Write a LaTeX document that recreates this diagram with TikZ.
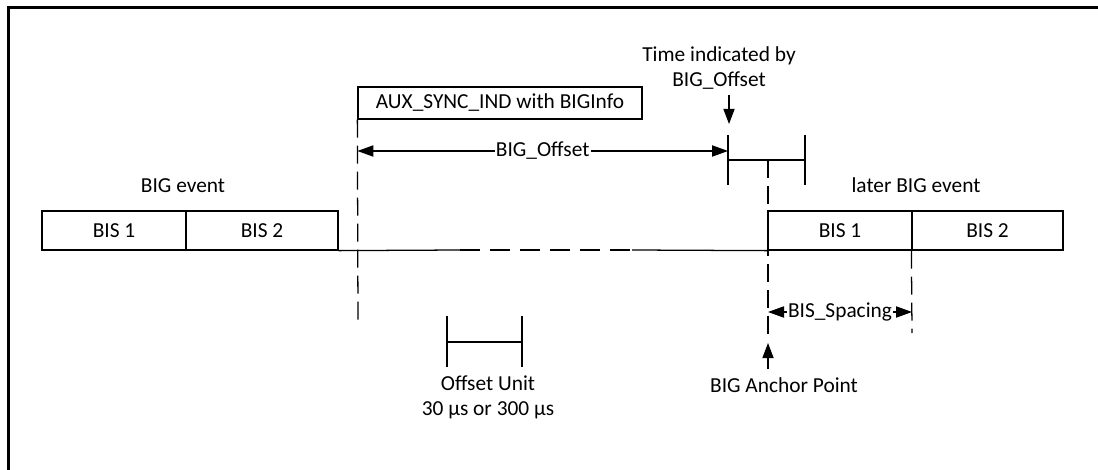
\documentclass[tikz,border=0pt]{standalone}
\usepackage{fontspec}
\setmainfont{Carlito}
\usetikzlibrary{
    arrows.meta,
    positioning,
    calc
}

\begin{document}
\begin{tikzpicture}[
    x=0.25mm,
    y=-0.25mm,
    every node/.style={
        font=\fontsize{15.2pt}{18pt}\selectfont
    },
    bisbox/.style={
        rectangle,
        draw=black,
        line width=0.9pt,
        minimum height=9.75mm,
        inner sep=0pt,
        align=center
    },
    infobox/.style={
        bisbox,
        minimum width=71mm,
        minimum height=8mm
    },
    caption/.style={
        align=center,
        inner sep=1pt
    },
    thinline/.style={
        line width=0.9pt,
        draw=black
    },
    guide/.style={
        thinline,
        dash pattern=on 4.5mm off 2mm
    },
    arrow/.style={
        -{Triangle[length=3.8mm,width=2.8mm]},
        thinline
    },
    dimarrow/.style={
        {Triangle[length=4mm,width=2.8mm]}-{Triangle[length=4mm,width=2.8mm]},
        thinline
    },
    frameline/.style={
        line width=1.6pt,
        draw=black
    }
]

\useasboundingbox (0,0) rectangle (1098,470);

% ===========================================================
% Frame
% ===========================================================

\coordinate (framecorner) at (8.5,7.5);
\coordinate (frametop) at (1098,7.5);
\coordinate (framebottom) at (8.5,470);
\draw[frameline] (framebottom) -- (framecorner) -- (frametop);

% ===========================================================
% BIG event (left)
% ===========================================================

\node[bisbox, minimum width=36mm] (bisa) at (114,230.5) {BIS 1};
\node[bisbox, minimum width=38mm] (bisb) at (262,230.5) {BIS 2};

\node[caption] (bigevent) at (183,186) {BIG event};

% ===========================================================
% later BIG event (right)
% ===========================================================

\node[bisbox, minimum width=36mm] (laterbisa) at (840,230.5) {BIS 1};
\node[bisbox, minimum width=37.75mm] (laterbisb) at (987.5,230.5) {BIS 2};

\node[caption] (laterevent) at (916,185) {later BIG event};

% Time line between the two events
\coordinate (dashstart) at (460,250);
\coordinate (dashend) at (632,250);

\draw[thinline] (bisb.south east) -- (dashstart);
\draw[guide, dash pattern=on 5mm off 2.5mm] (dashstart) -- (dashend);
\draw[thinline] (dashend) -- (laterbisa.south west);

% ===========================================================
% AUX_SYNC_IND and BIG_Offset
% ===========================================================

\node[infobox] (auxsync) at (500,103) {AUX\_SYNC\_IND with BIGInfo};

\coordinate (auxfoot) at (358,327);
\draw[guide] (auxsync.south west) -- (auxfoot);

% Offset window
\coordinate (offsetleft) at (728,151);
\coordinate (windowlt) at (728,135);
\coordinate (windowlb) at (728,185);
\coordinate (windowrt) at (805,135);
\coordinate (windowrb) at (805,185);
\coordinate (windowl) at (728,160);
\coordinate (windowr) at (805,160);
\coordinate (windowmid) at (768,160);

\draw[thinline] (windowlt) -- (windowlb);
\draw[thinline] (windowrt) -- (windowrb);
\draw[thinline] (windowl) -- (windowr);

\draw[dimarrow]
    (auxsync.south west |- offsetleft)
    -- node[midway, fill=white, inner sep=1pt] {BIG\_Offset}
    (offsetleft);

\node[caption] (timeind) at (719,68)
    {Time indicated by\\BIG\_Offset};

\coordinate (timetail) at (729,95);
\coordinate (timetip) at (729,124);
\draw[arrow] (timetail) -- (timetip);

% ===========================================================
% BIG Anchor Point and BIS_Spacing
% ===========================================================

\coordinate (anchorfoot) at (768,335);
\draw[guide] (windowmid) -- (anchorfoot);

\coordinate (spacingfoot) at (912,333);
\draw[guide] (laterbisb.south west) -- (spacingfoot);

\draw[dimarrow]
    (768,312)
    -- node[midway, fill=white, inner sep=0.5pt] {BIS\_Spacing}
    (912,312);

\coordinate (anchortail) at (768,369);
\coordinate (anchortip) at (768,343);
\draw[arrow] (anchortail) -- (anchortip);

\node[caption] (anchorlabel) at (784,385) {BIG Anchor Point};

% ===========================================================
% Offset Unit
% ===========================================================

\coordinate (unitlt) at (447,316);
\coordinate (unitlb) at (447,367);
\coordinate (unitrt) at (522,316);
\coordinate (unitrb) at (522,367);

\draw[thinline] (unitlt) -- (unitlb);
\draw[thinline] (unitrt) -- (unitrb);
\draw[thinline] (447,342) -- (522,342);

\node[caption] (unitlabel) at (488,397)
    {Offset Unit\\30 µs or 300 µs};

\end{tikzpicture}
\end{document}
